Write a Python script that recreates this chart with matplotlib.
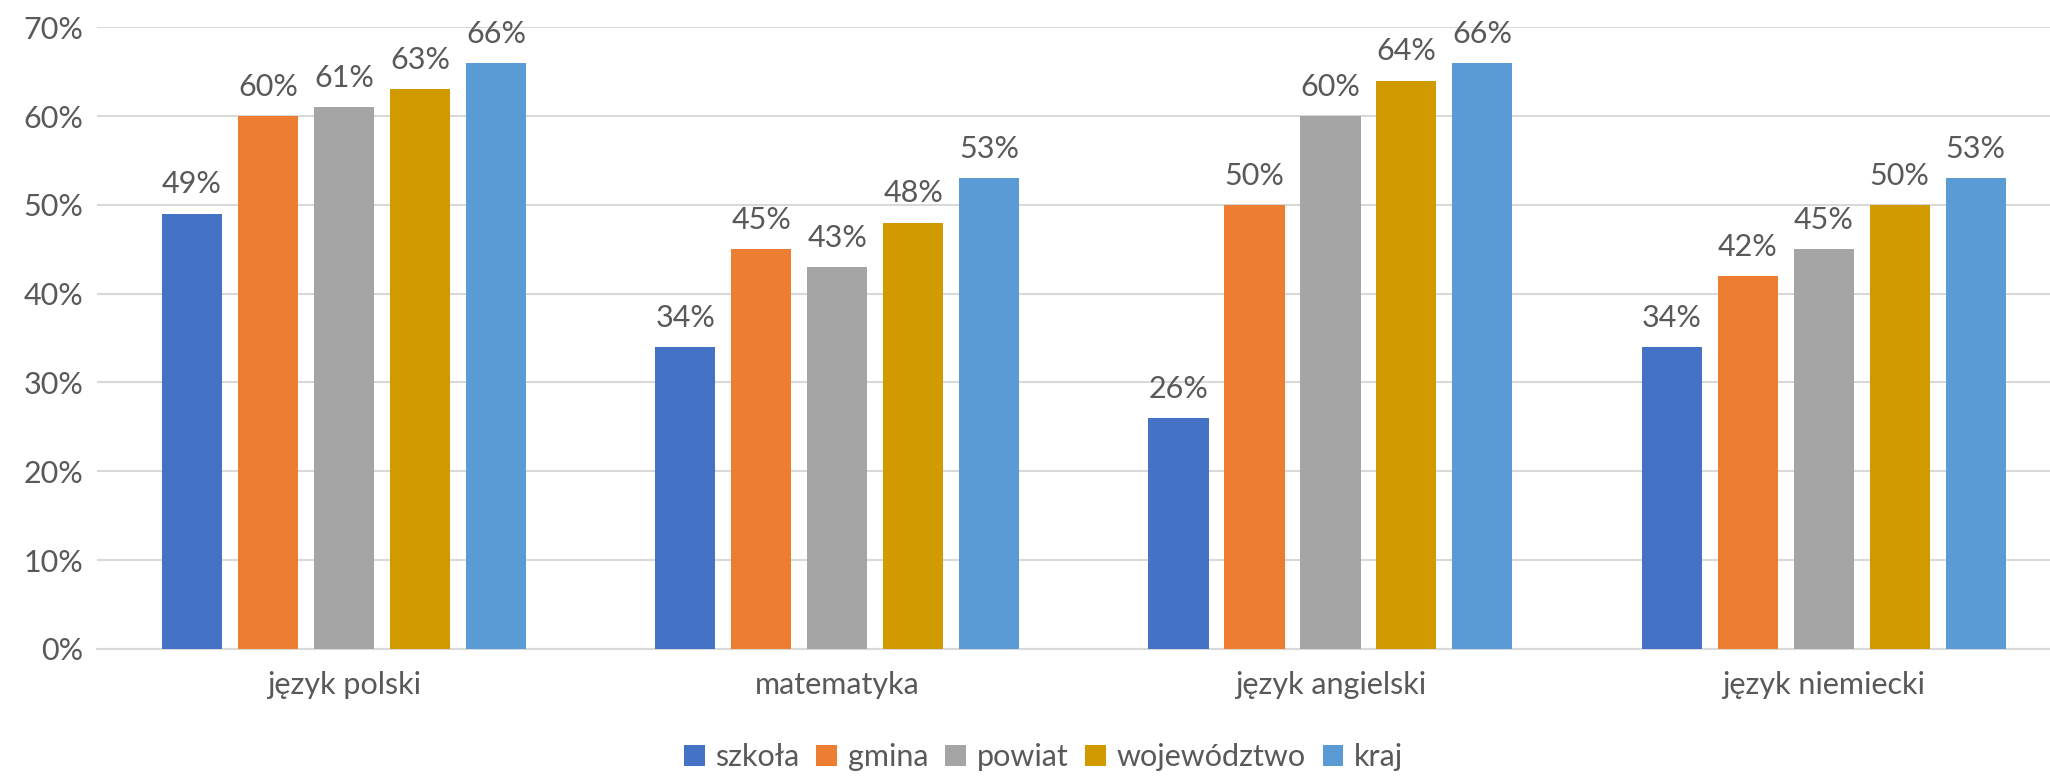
import matplotlib
matplotlib.use("Agg")
import matplotlib.pyplot as plt
import numpy as np
from matplotlib.ticker import PercentFormatter

subjects = ["język polski", "matematyka", "język angielski", "język niemiecki"]
series = ["szkoła", "gmina", "powiat", "województwo", "kraj"]
szkola = [0.49, 0.34, 0.26, 0.34]
gmina = [0.60, 0.45, 0.50, 0.42]
powiat = [0.61, 0.43, 0.60, 0.45]
wojewodztwo = [0.63, 0.48, 0.64, 0.50]
kraj = [0.66, 0.53, 0.66, 0.53]
colors = ["#4472C4", "#ED7D31", "#A5A5A5", "#D19B00", "#5B9BD5"]

plt.rcParams["font.family"] = ["Lato", "DejaVu Sans"]
text_col = "#595959"
fs = 22

fig = plt.figure(figsize=(20.5, 7.79), dpi=100)
ax = fig.add_axes([0.0475, 0.167, 0.9624, 0.798])

x = np.arange(len(subjects))
width = 0.122
pitch = 0.154
for i, (name, vals) in enumerate(zip(series, [szkola, gmina, powiat, wojewodztwo, kraj])):
    pos = x + (i - 2) * pitch
    ax.bar(pos, vals, width, color=colors[i], label=name, zorder=3)
    for px, v in zip(pos, vals):
        ax.annotate(f"{round(v * 100)}%", (px, v), xytext=(0, 11), textcoords="offset points",
                    ha="center", va="bottom", fontsize=fs, color=text_col)

ax.set_ylim(0, 0.7)
ax.set_xlim(-0.5, len(subjects) - 0.5)
ax.set_yticks(np.arange(0, 0.71, 0.1))
ax.yaxis.set_major_formatter(PercentFormatter(1.0, decimals=0))
ax.set_xticks(x)
ax.set_xticklabels(subjects)
ax.grid(axis="y", color="#D9D9D9", linewidth=1.5, zorder=0)
for s in ["top", "right", "left"]:
    ax.spines[s].set_visible(False)
ax.spines["bottom"].set_color("#D9D9D9")
ax.spines["bottom"].set_linewidth(1.5)
ax.tick_params(axis="both", length=0, labelsize=fs, labelcolor=text_col)
ax.tick_params(axis="x", pad=16)
ax.tick_params(axis="y", pad=10)

leg = fig.legend(loc="center", bbox_to_anchor=(0.509, 0.028), ncol=5, frameon=False,
                 fontsize=fs, handlelength=0.68, handleheight=0.68,
                 handletextpad=0.35, columnspacing=0.55)
for t in leg.get_texts():
    t.set_color(text_col)

fig.savefig("out.png", dpi=100)
